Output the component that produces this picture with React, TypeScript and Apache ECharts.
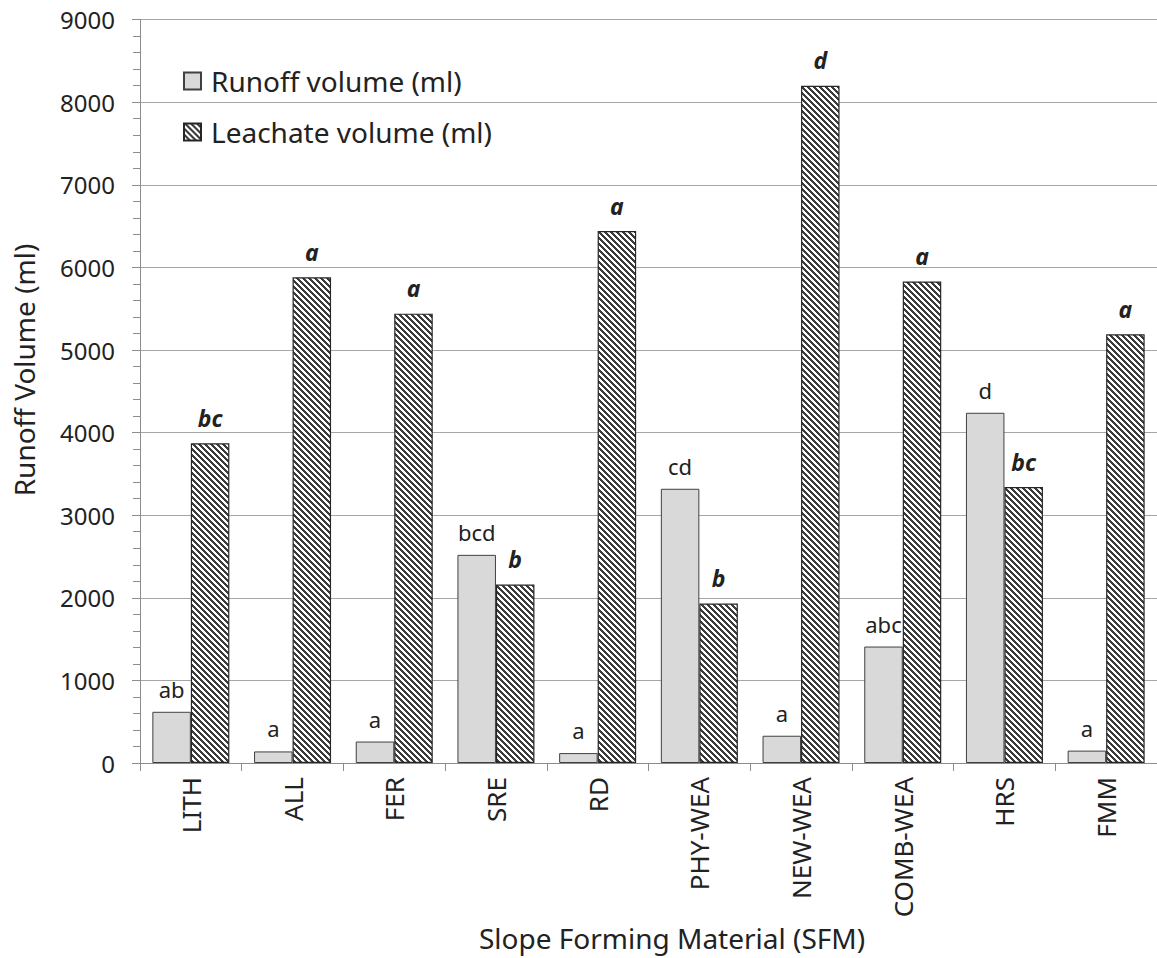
import React, { useEffect, useRef } from "react";
import * as echarts from "echarts";

const categories = ["LITH", "ALL", "FER", "SRE", "RD", "PHY-WEA", "NEW-WEA", "COMB-WEA", "HRS", "FMM"];
const runoffValues = [620, 140, 260, 2520, 120, 3320, 330, 1410, 4240, 150];
const leachateValues = [3870, 5880, 5440, 2160, 6440, 1930, 8200, 5830, 3340, 5190];
const runoffLetters = ["ab", "a", "a", "bcd", "a", "cd", "a", "abc", "d", "a"];
const leachateLetters = ["bc", "a", "a", "b", "a", "b", "d", "a", "bc", "a"];
const seriesNames = ["Runoff volume (ml)", "Leachate volume (ml)"];
const yTicks = { min: 0, max: 9000, interval: 1000 };
const xTitle = "Slope Forming Material (SFM)";
const yTitle = "Runoff Volume (ml)";

const FONT = "'Noto Sans', 'Open Sans', sans-serif";

function makeHatch(): HTMLCanvasElement {
  const n = 6;
  const c = document.createElement("canvas");
  c.width = n;
  c.height = n;
  const ctx = c.getContext("2d")!;
  const img = ctx.createImageData(n, n);
  for (let y = 0; y < n; y++) {
    for (let x = 0; x < n; x++) {
      const d = (((x - y) % n) + n) % n;
      const dark = d < 3;
      const i = (y * n + x) * 4;
      const v = dark ? 60 : 255;
      img.data[i] = v;
      img.data[i + 1] = v;
      img.data[i + 2] = v;
      img.data[i + 3] = 255;
    }
  }
  ctx.putImageData(img, 0, 0);
  return c;
}

export default function App() {
  const ref = useRef<HTMLDivElement>(null);
  useEffect(() => {
    if (!ref.current) return;
    const chart = echarts.init(ref.current, null, { renderer: "svg" });
    const hatch = makeHatch();
    const option: any = {
      animation: false,
      backgroundColor: "#ffffff",
      textStyle: { fontFamily: FONT },
      grid: { left: 140, top: 19.6, width: 1022, height: 743.4, containLabel: false },
      legend: {
        orient: "vertical",
        left: 183,
        top: 64,
        padding: 0,
        itemWidth: 17,
        itemHeight: 17,
        itemGap: 17,
        icon: "rect",
        textStyle: { fontFamily: FONT, fontSize: 28, color: "#222", lineHeight: 34, padding: [0, 0, 0, 5] },
        data: seriesNames,
      },
      xAxis: {
        type: "category",
        data: categories,
        axisLine: { lineStyle: { color: "#8c8c8c", width: 1 } },
        axisTick: { show: true, length: 8, lineStyle: { color: "#8c8c8c" } },
        axisLabel: { rotate: 90, fontSize: 26, color: "#222", fontFamily: FONT, margin: 14 },
        splitLine: { show: false },
      },
      yAxis: {
        type: "value",
        min: yTicks.min,
        max: yTicks.max,
        interval: yTicks.interval,
        axisLine: { show: true, lineStyle: { color: "#8c8c8c", width: 1 } },
        axisTick: { show: true, length: 8, lineStyle: { color: "#8c8c8c" } },
        minorTick: { show: true, splitNumber: 5, length: 7, lineStyle: { color: "#8c8c8c" } },
        axisLabel: {
          fontSize: 24,
          color: "#222",
          fontFamily: FONT,
          margin: 25,
          formatter: (v: number) => String(v),
        },
        splitLine: { show: true, lineStyle: { color: "#a6a6a6", width: 1 } },
      },
      series: [
        {
          name: seriesNames[0],
          type: "bar",
          barWidth: 38.5,
          barGap: "0%",
          data: runoffValues,
          itemStyle: { color: "#d9d9d9", borderColor: "#404040", borderWidth: 1 },
          label: {
            show: true,
            position: "top",
            distance: 12,
            fontSize: 22,
            color: "#222",
            fontFamily: FONT,
            formatter: (p: any) => runoffLetters[p.dataIndex],
          },
        },
        {
          name: seriesNames[1],
          type: "bar",
          barWidth: 38.5,
          barGap: "0%",
          data: leachateValues,
          itemStyle: {
            color: { image: hatch, repeat: "repeat" },
            borderColor: "#262626",
            borderWidth: 1.2,
          },
          label: {
            show: true,
            position: "top",
            distance: 14,
            fontSize: 23,
            fontWeight: "bold",
            fontStyle: "italic",
            color: "#222",
            fontFamily: FONT,
            formatter: (p: any) => leachateLetters[p.dataIndex],
          },
        },
      ],
      graphic: [
        {
          type: "text",
          x: 672,
          y: 938,
          style: {
            text: xTitle,
            fontSize: 28,
            fontFamily: FONT,
            fill: "#222",
            align: "center",
            verticalAlign: "middle",
          },
        },
        {
          type: "text",
          x: 24,
          y: 370,
          rotation: Math.PI / 2,
          style: {
            text: yTitle,
            fontSize: 28,
            fontFamily: FONT,
            fill: "#222",
            align: "center",
            verticalAlign: "middle",
          },
        },
      ],
    };
    chart.setOption(option);
    return () => chart.dispose();
  }, []);
  return (
    <div
      ref={ref}
      style={{ position: "fixed", left: 0, top: 0, width: 1157, height: 958, background: "#fff" }}
    />
  );
}
